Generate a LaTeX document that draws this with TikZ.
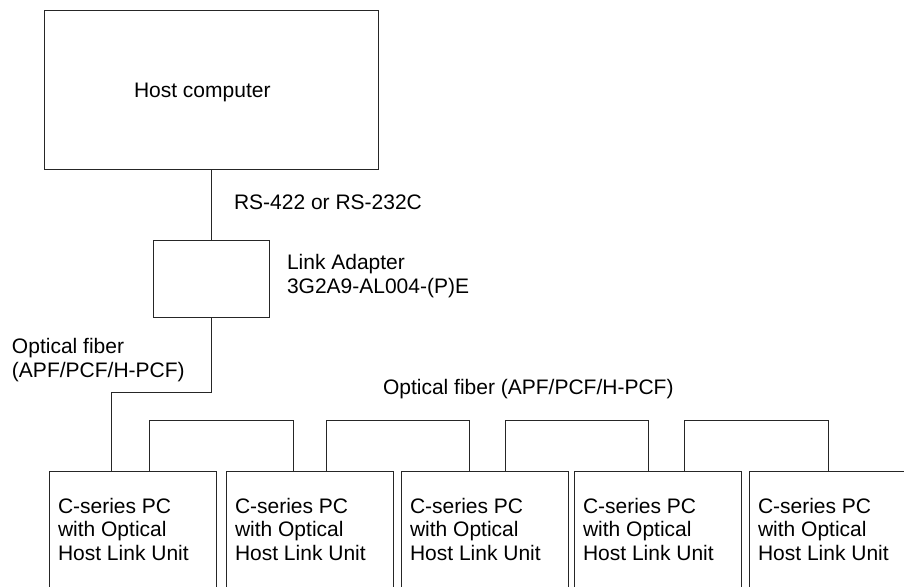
\documentclass[tikz,border=0pt]{standalone}
\usepackage{fontspec}
\setmainfont{Liberation Sans}
\usetikzlibrary{calc}
\begin{document}
\begin{tikzpicture}[x=1pt,y=-1pt,
  every node/.style={inner sep=0pt, outer sep=0pt},
  box/.style={draw=black!85, line width=0.8pt, anchor=north west},
  pcbox/.style={box, minimum width=167pt, minimum height=140pt},
  lbl/.style={font=\fontsize{21}{23.5}\selectfont, anchor=base west, align=left},
  wire/.style={draw=black!85, line width=0.8pt}
]
\useasboundingbox (0,0) rectangle (904,586);
\clip (0,0) rectangle (904,586);
\fill[white] (0,0) rectangle (904,586);

% boxes
\node[box, minimum width=334pt, minimum height=159pt] (host) at (44,10) {};
\node[box, minimum width=116pt, minimum height=77pt] (adapter) at (153,240) {};
\node[pcbox] (pc1) at (49,471) {};
\node[pcbox] (pc2) at (226,471) {};
\node[pcbox] (pc3) at (401,471) {};
\node[pcbox] (pc4) at (574,471) {};
\node[pcbox] (pc5) at (749,471) {};

% texts (base anchor = baseline of the last line)
\node[lbl] (thost) at (134,97) {Host computer};
\node[lbl] (trs) at (234,209) {RS-422 or RS-232C};
\node[lbl] (tad) at (287,293) {Link Adapter\\3G2A9-AL004-(P)E};
\node[lbl] (tof1) at (12,377) {Optical fiber\\(APF/PCF/H-PCF)};
\node[lbl] (tof2) at (383,394) {Optical fiber (APF/PCF/H-PCF)};
\foreach \i in {1,...,5}{
  \node[lbl] (tpc\i) at ($(pc\i.north west)+(9,89)$) {C-series PC\\with Optical\\Host Link Unit};
}

% connectors
\draw[wire] (host.south) -- (adapter.north);
\coordinate (bend) at (211,392);
\coordinate (p1in) at ($(pc1.north west)+(62,0)$);
\draw[wire] (adapter.south) -- (bend) -| (p1in);

\coordinate (a1) at ($(pc1.north west)+(100,0)$);
\coordinate (b1) at ($(pc2.north west)+(67,0)$);
\coordinate (a2) at ($(pc2.north west)+(100,0)$);
\coordinate (b2) at ($(pc3.north west)+(68,0)$);
\coordinate (a3) at ($(pc3.north west)+(104,0)$);
\coordinate (b3) at ($(pc4.north west)+(74,0)$);
\coordinate (a4) at ($(pc4.north west)+(110,0)$);
\coordinate (b4) at ($(pc5.north west)+(79,0)$);
\foreach \i in {1,...,4}{
  \draw[wire] (a\i) -- ++(0,-51) -| (b\i);
}
\end{tikzpicture}
\end{document}
